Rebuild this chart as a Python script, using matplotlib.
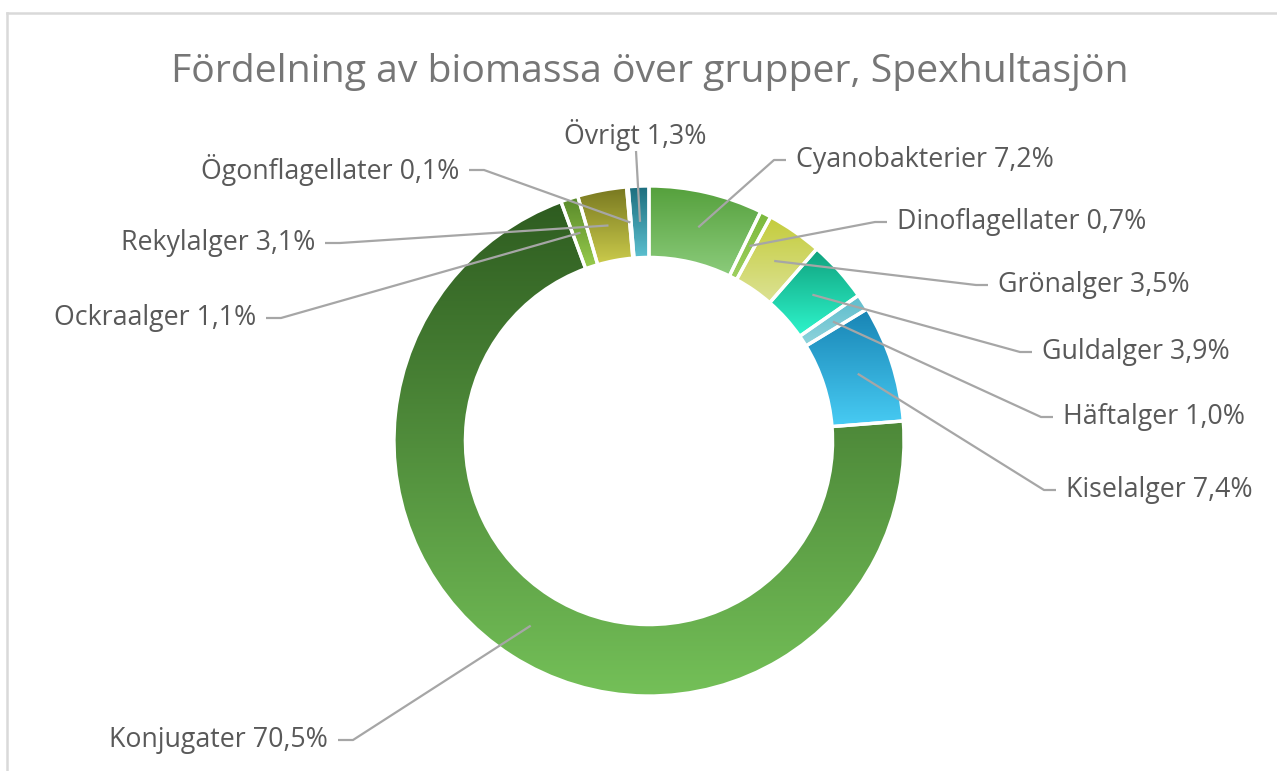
import numpy as np
import matplotlib
matplotlib.use("Agg")
import matplotlib.pyplot as plt
from matplotlib import font_manager
from matplotlib.colors import to_rgb

# ---- data ----
categories = ["Cyanobakterier", "Dinoflagellater", "Grönalger", "Guldalger",
              "Häftalger", "Kiselalger", "Konjugater", "Ockraalger",
              "Rekylalger", "Ögonflagellater", "Övrigt"]
values = [7.2, 0.7, 3.5, 3.9, 1.0, 7.4, 70.5, 1.1, 3.1, 0.1, 1.3]
title = "Fördelning av biomassa över grupper, Spexhultasjön"

# gradient colours (top, bottom) per slice
top_colors = ["#55a03c", "#7ab83c", "#c4cc3c", "#0fa07c", "#5cbccc", "#1884b4",
              "#2e5c20", "#58882a", "#787820", "#3c90a0", "#1c6c7c"]
bot_colors = ["#8ccc7c", "#a0d060", "#dce294", "#2ef5cc", "#90d4dc", "#48ccf4",
              "#74c058", "#98cc4c", "#cccc4c", "#70c8d4", "#5cc0d0"]

# label layout (pixel coords: anchor x, y, side)
label_layout = {
    "Cyanobakterier": (796, 160, "L"),
    "Dinoflagellater": (897, 222, "L"),
    "Grönalger": (998, 285, "L"),
    "Guldalger": (1042, 352, "L"),
    "Häftalger": (1063, 417, "L"),
    "Kiselalger": (1066, 490, "L"),
    "Konjugater": (328, 740, "R"),
    "Ockraalger": (256, 318, "R"),
    "Rekylalger": (315, 243, "R"),
    "Ögonflagellater": (459, 170, "R"),
    "Övrigt": (635, 135, "C"),
}

W, H = 1277, 771
avail = {f.name for f in font_manager.fontManager.ttflist}
fam = [f for f in ["Liberation Sans Narrow", "Open Sans", "Lato", "DejaVu Sans"] if f in avail]

fig = plt.figure(figsize=(W / 100, H / 100), dpi=100)
ax = fig.add_axes([0, 0, 1, 1])

cx, cy, R = 649, H - 441, 255
ring = 0.28 * R
wedges, _ = ax.pie(values, radius=R, center=(cx, cy), startangle=90,
                   counterclock=False,
                   wedgeprops=dict(width=ring, edgecolor="white", linewidth=2.4))
ax.set_xlim(0, W)
ax.set_ylim(0, H)
ax.set_aspect("auto")
ax.axis("off")

for w, ct, cb in zip(wedges, top_colors, bot_colors):
    w.set_facecolor("none")
    w.set_zorder(3)
    ext = w.get_path().get_extents()
    n = 256
    t = np.linspace(0, 1, n)[:, None]
    c0, c1 = np.array(to_rgb(ct)), np.array(to_rgb(cb))
    img = (c0[None, :] * (1 - t) + c1[None, :] * t)[:, None, :]
    im = ax.imshow(img, extent=(ext.x0, ext.x1, ext.y0, ext.y1), origin="upper",
                   aspect="auto", interpolation="bilinear", zorder=2)
    im.set_clip_path(w)

# labels + leader lines
fs = 19.3
rmid = R - ring / 2
cum = 0.0
total = sum(values)
for name, v, w in zip(categories, values, wedges):
    mid = 90 - (cum + v / 2) / total * 360
    cum += v
    px, py = cx + rmid * np.cos(np.radians(mid)), cy + rmid * np.sin(np.radians(mid))
    lx, ly, side = label_layout[name]
    ly = H - ly
    txt = f"{name} {v:.1f}%".replace(".", ",")
    if side == "L":
        ax.text(lx, ly, txt, ha="left", va="center", fontsize=fs, color="#595959",
                family=fam, zorder=5)
        xs = [px, lx - 22, lx - 10]
        ys = [py, ly, ly]
    elif side == "R":
        ax.text(lx, ly, txt, ha="right", va="center", fontsize=fs, color="#595959",
                family=fam, zorder=5)
        xs = [px, lx + 25, lx + 10]
        ys = [py, ly, ly]
    else:
        ax.text(lx, ly, txt, ha="center", va="center", fontsize=fs, color="#595959",
                family=fam, zorder=5)
        xs = [px, lx + 1]
        ys = [py, ly - 16]
    ax.plot(xs, ys, color="#a6a6a6", lw=1.6, zorder=4, solid_capstyle="butt")

ax.text(650, H - 72, title, ha="center", va="center", fontsize=28.2, color="#767676",
        family=fam)

# chart border
ax.plot([7, W], [H - 13, H - 13], color="#d9d9d9", lw=1.8, zorder=1)
ax.plot([7, 7], [H - 13, 0], color="#d9d9d9", lw=1.8, zorder=1)

fig.savefig("out.png", dpi=100, facecolor="white")
